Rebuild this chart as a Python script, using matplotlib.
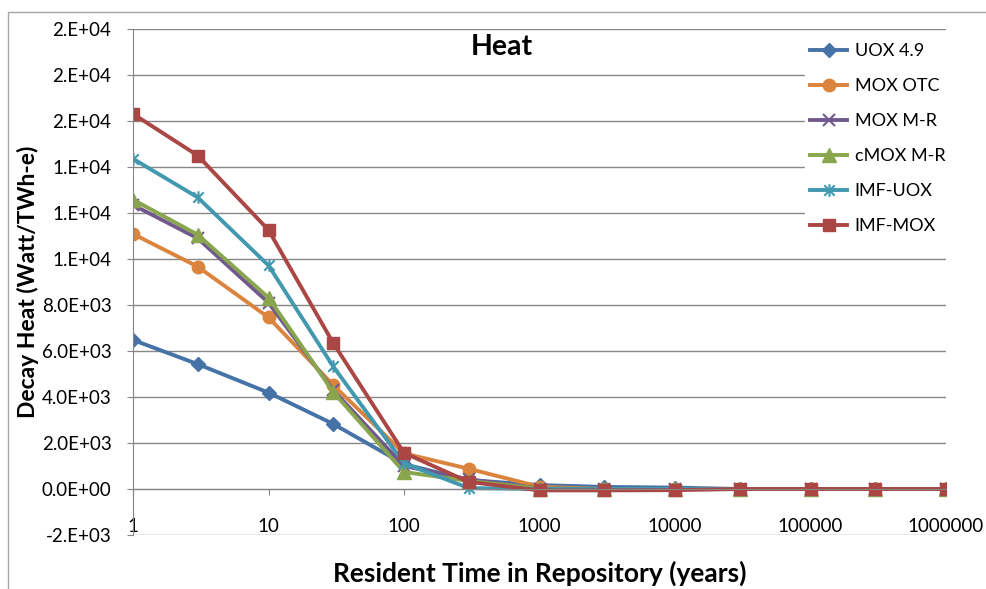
import matplotlib
matplotlib.use("Agg")
import matplotlib.pyplot as plt
from matplotlib.path import Path
from matplotlib.patches import Rectangle

plt.rcParams['font.family'] = ['Lato', 'DejaVu Sans']

years = [1, 3, 10, 30, 100, 300, 1000, 3000, 10000, 30000, 100000, 300000, 1000000]
series_names = ["UOX 4.9", "MOX OTC", "MOX M-R", "cMOX M-R", "IMF-UOX", "IMF-MOX"]
uox49 = [6480, 5430, 4190, 2830, 1080, 390, 170, 90, 60, 0, 0, 0, 0]
mox_otc = [11090, 9670, 7460, 4520, 1550, 880, 100, 0, 0, 0, 0, 0, 0]
mox_mr = [12350, 10900, 8100, 4300, 1000, 420, 20, 0, 0, 0, 0, 0, 0]
cmox_mr = [12580, 11060, 8320, 4220, 740, 350, 20, 0, 0, 0, 0, 0, 0]
imf_uox = [14360, 12680, 9720, 5330, 1120, 40, 0, 0, 0, 0, 0, 0, 0]
imf_mox = [16310, 14500, 11260, 6350, 1570, 310, -60, -60, -50, 0, 0, 0, 0]

ytick_vals = [-2000, 0, 2000, 4000, 6000, 8000, 10000, 12000, 14000, 16000, 18000, 20000]
ytick_labels = ["-2.E+03", "0.0E+00", "2.0E+03", "4.0E+03", "6.0E+03", "8.0E+03",
                "1.E+04", "1.E+04", "1.E+04", "2.E+04", "2.E+04", "2.E+04"]
xtick_vals = [1, 10, 100, 1000, 10000, 100000, 1000000]
xtick_labels = ["1", "10", "100", "1000", "10000", "100000", "1000000"]

star = Path([(-1, -1), (1, 1), (-1, 1), (1, -1), (0, -1.2), (0, 1.2)],
            [Path.MOVETO, Path.LINETO, Path.MOVETO, Path.LINETO, Path.MOVETO, Path.LINETO])

styles = [
    dict(color="#4572A7", marker="D", ms=7),
    dict(color="#DB843D", marker="o", ms=9),
    dict(color="#71588F", marker="x", ms=9, mew=1.5),
    dict(color="#89A54E", marker="^", ms=10),
    dict(color="#4198AF", marker=star, ms=9, mew=1.5),
    dict(color="#AA4643", marker="s", ms=9),
]
data = [uox49, mox_otc, mox_mr, cmox_mr, imf_uox, imf_mox]

fig = plt.figure(figsize=(9.86, 5.89), dpi=100)
fig.patches.append(Rectangle((8/986, -0.1), 1.2, 1 - 12/589 + 0.1, transform=fig.transFigure,
                             fill=False, edgecolor="#A6A6A6", lw=1))
ax = fig.add_axes([133/986, 1 - 535/589, (946 - 133)/986, (535 - 29)/589])

for name, vals, st in zip(series_names, data, styles):
    ax.plot(years, vals, label=name, lw=2.8, color=st["color"], marker=st["marker"],
            markersize=st["ms"], markeredgewidth=st.get("mew", 1.0),
            markeredgecolor=st["color"], markerfacecolor=st["color"])

ax.set_xscale("log")
ax.set_xlim(1, 1000000)
ax.set_ylim(-2000, 20000)
ax.set_yticks(ytick_vals)
ax.set_yticklabels(ytick_labels)
ax.set_xticks(xtick_vals)
ax.set_xticklabels(xtick_labels)
ax.minorticks_off()
ax.tick_params(axis="both", labelsize=13.5, color="#868686")
ax.tick_params(axis="y", pad=11, length=4.5)
ax.tick_params(axis="x", pad=17, length=4)

ax.grid(axis="y", color="#868686", lw=1)
ax.set_axisbelow(True)
for s in ["top", "right"]:
    ax.spines[s].set_visible(False)
ax.spines["bottom"].set_position(("data", 0))
ax.spines["bottom"].set_color("#868686")
ax.spines["left"].set_color("#868686")

fig.text(502/986, 1 - 47/589, "Heat", ha="center", va="center",
         fontsize=20.5, fontweight="bold")

fig.text(28/986, 1 - 282/589, "Decay Heat (Watt/TWh-e)", rotation=90, ha="center",
         va="center", fontsize=16.5, fontweight="bold")
fig.text(540/986, 1 - 573/589, "Resident Time in Repository (years)", ha="center",
         va="center", fontsize=19, fontweight="bold")

leg = ax.legend(loc="upper left", bbox_to_anchor=(796/986, 1 - 29/589),
                bbox_transform=fig.transFigure, frameon=True, fontsize=13,
                handlelength=2.05, labelspacing=1.05, handletextpad=0.4,
                borderpad=0.3, fancybox=False)
leg.get_frame().set_edgecolor("white")
leg.get_frame().set_facecolor("white")
leg.get_frame().set_alpha(1)

fig.savefig("out.png", dpi=100)
